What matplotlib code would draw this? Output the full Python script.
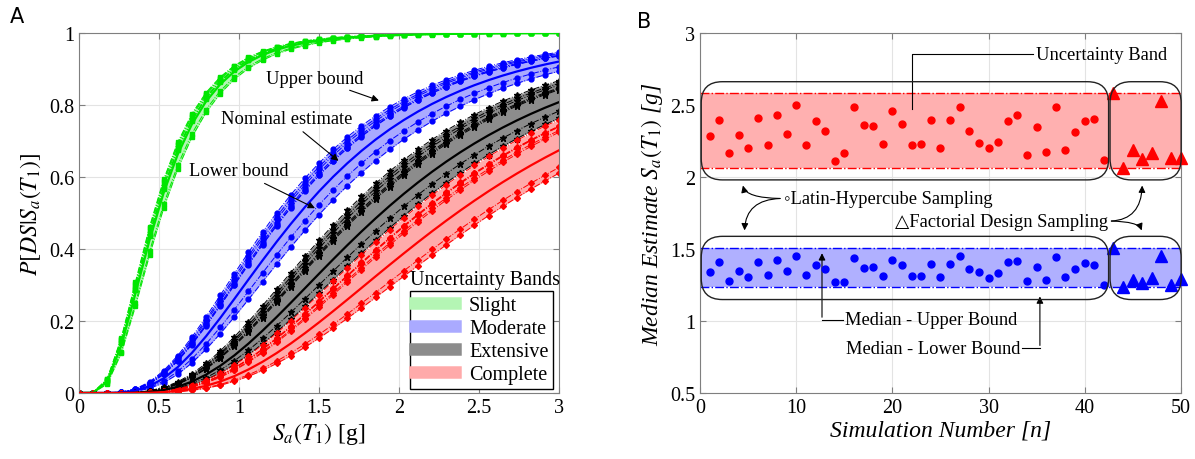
import math

import matplotlib
matplotlib.use("Agg")
import matplotlib.pyplot as plt
import numpy as np
from matplotlib.lines import Line2D
from matplotlib.patches import FancyBboxPatch
from matplotlib.ticker import FuncFormatter

plt.rcParams["font.family"] = ["Liberation Serif", "DejaVu Sans"]
plt.rcParams["mathtext.fontset"] = "stix"

# ── Data ─────────────────────────────────────────────────────────────────────

sa_grid = np.linspace(0, 3, 35)          # Sa(T1) [g] at which curves are sampled

states = ["Slight", "Moderate", "Extensive", "Complete"]
nominal_median = [0.49, 1.38, 1.89, 2.36]      # [g]
dispersion = [0.55, 0.55, 0.53, 0.53]

# medians of the factorial design runs (simulations 43-50)
fd_median_slight = [0.520, 0.465, 0.478, 0.472, 0.482, 0.512, 0.468, 0.480]
fd_median_moderate = [1.509, 1.234, 1.284, 1.266, 1.297, 1.453, 1.252, 1.293]
fd_median_extensive = [2.05, 1.66, 1.74, 1.71, 1.76, 1.98, 1.69, 1.75]
fd_median_complete = [2.583, 2.065, 2.187, 2.126, 2.169, 2.527, 2.131, 2.135]

# medians of the latin hypercube runs (simulations 1-42)
lhs_median_moderate = [
    1.342, 1.410, 1.275, 1.347, 1.306, 1.408, 1.320, 1.423, 1.345, 1.450,
    1.320, 1.387, 1.360, 1.270, 1.273, 1.435, 1.369, 1.374, 1.313, 1.426,
    1.392, 1.311, 1.311, 1.394, 1.304, 1.399, 1.450, 1.360, 1.340, 1.300,
    1.331, 1.408, 1.414, 1.279, 1.376, 1.282, 1.446, 1.304, 1.360, 1.401,
    1.390, 1.248,
]
lhs_median_complete = [
    2.284, 2.399, 2.167, 2.293, 2.205, 2.410, 2.221, 2.430, 2.300, 2.500,
    2.221, 2.390, 2.318, 2.113, 2.167, 2.484, 2.363, 2.351, 2.227, 2.462,
    2.367, 2.221, 2.232, 2.399, 2.205, 2.396, 2.486, 2.322, 2.236, 2.205,
    2.241, 2.392, 2.428, 2.153, 2.349, 2.171, 2.484, 2.189, 2.315, 2.390,
    2.403, 2.119,
]
lhs_sim = list(range(1, 43))
fd_sim = list(range(43, 51))

fd_medians = [fd_median_slight, fd_median_moderate, fd_median_extensive, fd_median_complete]

# ── Style ────────────────────────────────────────────────────────────────────

LINE_COLORS = ["#00e600", "#0000ff", "#000000", "#ff0000"]
BAND_COLORS = ["#b4f5b4", "#aaaaff", "#8c8c8c", "#ffaaaa"]
MARKERS = ["s", "o", "*", "D"]
MSIZES = [3.0, 3.5, 4.5, 3.0]
SPINE = "#7f7f7f"
FS_TICK = 14.5
FS_LABEL = 17
FS_NOTE = 13.3


def fragility(sa, median, beta):
    with np.errstate(divide="ignore"):
        z = np.log(sa / median) / beta
    return np.array([0.5 * (1 + math.erf(v / math.sqrt(2))) for v in z])


def style_axes(ax):
    ax.grid(True, color="#e3e3e3", lw=0.8)
    ax.set_axisbelow(True)
    for sp in ax.spines.values():
        sp.set_color(SPINE)
    ax.tick_params(direction="in", labelsize=FS_TICK, color=SPINE, length=4,
                   top=True, right=True)
    ax.xaxis.set_major_formatter(FuncFormatter(lambda v, p: f"{v:g}"))
    ax.yaxis.set_major_formatter(FuncFormatter(lambda v, p: f"{v:g}"))


fig = plt.figure(figsize=(11.95, 4.6), dpi=100)
ax1 = fig.add_axes([0.066, 0.1435, 0.402, 0.7825])
ax2 = fig.add_axes([0.586, 0.1435, 0.402, 0.7825])

# ── Panel A: fragility curves ────────────────────────────────────────────────

for i, state in enumerate(states):
    lo = fragility(sa_grid, max(fd_medians[i]), dispersion[i])
    hi = fragility(sa_grid, min(fd_medians[i]), dispersion[i])
    ax1.fill_between(sa_grid, lo, hi, color=BAND_COLORS[i], lw=0, zorder=1)

for i, state in enumerate(states):
    for med in fd_medians[i]:
        ax1.plot(sa_grid, fragility(sa_grid, med, dispersion[i]), ls="-.", lw=0.7,
                 color=LINE_COLORS[i], marker=MARKERS[i], ms=MSIZES[i], zorder=2)
    ax1.plot(sa_grid, fragility(sa_grid, nominal_median[i], dispersion[i]),
             color=LINE_COLORS[i], lw=1.6, zorder=3)

ax1.set_xlim(0, 3)
ax1.set_ylim(0, 1)
ax1.set_xticks(np.arange(0, 3.01, 0.5))
ax1.set_yticks(np.arange(0, 1.01, 0.2))
style_axes(ax1)
ax1.set_xlabel(r"$S_a(T_1)$ [g]", fontsize=FS_LABEL, labelpad=2)
ax1.set_ylabel(r"$P[DS|S_a(T_1)]$", fontsize=FS_LABEL, labelpad=4)

arrow = dict(arrowstyle="-|>", color="k", lw=0.8, mutation_scale=10)
ax1.annotate("Upper bound", xy=(1.89, 0.81), xytext=(1.17, 0.875),
             fontsize=FS_NOTE, va="center", arrowprops=arrow)
ax1.annotate("Nominal estimate", xy=(1.635, 0.64), xytext=(0.89, 0.762),
             fontsize=FS_NOTE, va="center", arrowprops=arrow)
ax1.annotate("Lower bound", xy=(1.49, 0.51), xytext=(0.69, 0.617),
             fontsize=FS_NOTE, va="center", arrowprops=arrow)

handles = [Line2D([], [], color=c, lw=9) for c in BAND_COLORS]
leg = ax1.legend(handles, states, loc="lower right", bbox_to_anchor=(0.988, 0.01),
                 borderaxespad=0, fontsize=FS_TICK, fancybox=False, edgecolor="k",
                 framealpha=1, handlelength=2.0, labelspacing=0.2,
                 borderpad=0.25, handletextpad=0.7)
leg.get_frame().set_linewidth(1.0)
ax1.text(0.845, 0.315, "Uncertainty Bands", transform=ax1.transAxes,
         ha="center", va="center", fontsize=FS_TICK)

# ── Panel B: median estimates per simulation ────────────────────────────────

band_sets = [
    (lhs_median_complete, fd_median_complete, "#ff0000", "#ffb0b0"),
    (lhs_median_moderate, fd_median_moderate, "#0000ff", "#b0b0ff"),
]
for lhs, fd, col, fill in band_sets:
    lo, hi = min(fd), max(fd)
    ax2.axhspan(lo, hi, color=fill, lw=0, zorder=1)
    ax2.axhline(hi, color=col, ls="-.", lw=1.0, zorder=2)
    ax2.axhline(lo, color=col, ls="-.", lw=1.0, zorder=2)
    ax2.plot(lhs_sim, lhs, "o", color=col, ms=5, zorder=4)
    ax2.plot(fd_sim, fd, "^", color=col, ms=8, zorder=4, clip_on=False)

ax2.set_xlim(0, 50)
ax2.set_ylim(0.5, 3)
ax2.set_xticks(np.arange(0, 51, 10))
ax2.set_yticks(np.arange(0.5, 3.01, 0.5))
style_axes(ax2)
ax2.set_xlabel("Simulation Number [n]", fontsize=FS_LABEL, style="italic", labelpad=2)
ax2.set_ylabel(r"Median Estimate $S_a(T_1)$ [g]", fontsize=FS_LABEL,
               style="italic", labelpad=4)

# rounded group boxes (aspect corrected so corners look circular)
aspect = (2.5 / 360) / (50 / 480)
boxes = [(0.1, 42.5), (42.65, 50.05)]
for y0, y1 in [(1.98, 2.662), (1.149, 1.588)]:
    for x0, x1 in boxes:
        ax2.add_patch(FancyBboxPatch((x0, y0), x1 - x0, y1 - y0,
                                     boxstyle="round,pad=0,rounding_size=2.2",
                                     mutation_aspect=aspect, fc="none", ec="#222222",
                                     lw=1.0, zorder=5, clip_on=False))

ax2.text(34.9, 2.854, "Uncertainty Band", fontsize=FS_NOTE, va="center")
ax2.plot([34.6, 22.0, 22.0], [2.854, 2.854, 2.475], color="k", lw=0.8)

ax2.text(8.7, 1.851, "\u25e6Latin-Hypercube Sampling", fontsize=FS_NOTE, va="center")
curve = dict(arrowstyle="-|>", color="k", lw=0.8, mutation_scale=10)
ax2.annotate("", xy=(4.4, 1.96), xytext=(8.6, 1.851),
             arrowprops=dict(curve, connectionstyle="angle3,angleA=180,angleB=90"))
ax2.annotate("", xy=(4.6, 1.61), xytext=(8.6, 1.851),
             arrowprops=dict(curve, connectionstyle="angle3,angleA=180,angleB=-90"))

ax2.text(42.4, 1.694, "\u25b3Factorial Design Sampling", fontsize=FS_NOTE,
         ha="right", va="center")
ax2.annotate("", xy=(46.0, 1.96), xytext=(42.5, 1.694),
             arrowprops=dict(curve, connectionstyle="angle3,angleA=0,angleB=90"))
ax2.annotate("", xy=(46.0, 1.61), xytext=(42.5, 1.694),
             arrowprops=dict(curve, connectionstyle="angle3,angleA=0,angleB=-90"))

ax2.text(15.05, 1.007, "Median - Upper Bound", fontsize=FS_NOTE, va="center")
ax2.plot([14.9, 12.67], [1.007, 1.007], color="k", lw=0.8)
ax2.annotate("", xy=(12.67, 1.49), xytext=(12.67, 1.007), arrowprops=curve)

ax2.text(15.2, 0.811, "Median - Lower Bound", fontsize=FS_NOTE, va="center")
ax2.plot([33.5, 35.35], [0.811, 0.811], color="k", lw=0.8)
ax2.annotate("", xy=(35.35, 1.19), xytext=(35.35, 0.811), arrowprops=curve)

fig.text(0.008, 0.962, "A", fontsize=15, family="DejaVu Sans", va="center")
fig.text(0.533, 0.952, "B", fontsize=15, family="DejaVu Sans", va="center")

fig.savefig("out.png", dpi=100)
